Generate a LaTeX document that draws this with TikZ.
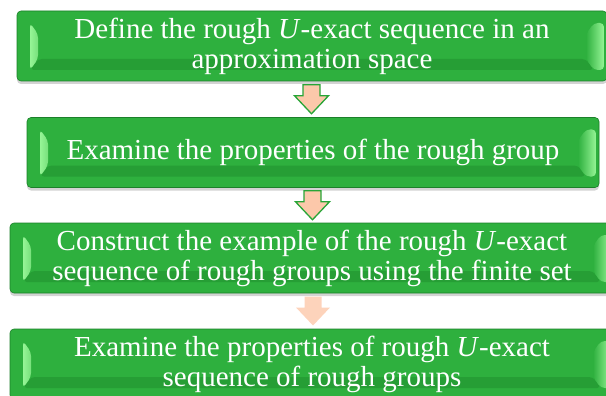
\documentclass[tikz,border=0pt]{standalone}
\usepackage{fontspec}
\setmainfont{Liberation Serif}
\usetikzlibrary{calc,shadows}

\definecolor{boxgreen}{RGB}{46,176,62}
\definecolor{boxedge}{RGB}{28,128,42}
\definecolor{bevellight}{RGB}{150,245,150}
\definecolor{beveldark}{RGB}{38,158,53}
\definecolor{arrowfill}{RGB}{252,200,170}
\definecolor{arrowedge}{RGB}{40,165,55}

% bevel faces of a step box, drawn as its path picture
\newcommand{\bevelbox}{%
  \coordinate (sw) at (path picture bounding box.south west);
  \coordinate (se) at (path picture bounding box.south east);
  \coordinate (nw) at (path picture bounding box.north west);
  \coordinate (ne) at (path picture bounding box.north east);
  \fill[beveldark] ($(sw)+(13pt,11pt)$) -- ($(se)+(-13pt,11pt)$)
    -- ++(-8pt,11pt) -- ($(sw)+(21pt,22pt)$) -- cycle;
  \fill[left color=bevellight, right color=bevellight!70!boxgreen]
    ($(nw)+(13pt,-12pt)$) -- ++(8pt,-11pt)
    -- ($(sw)+(21pt,22pt)$) -- ++(-8pt,-11pt) -- cycle;
  \fill[left color=boxgreen, right color=bevellight]
    ($(ne)+(-13pt,-12pt)$) -- ++(10pt,0pt)
    -- ($(se)+(-3pt,11pt)$) -- ++(-10pt,0pt) -- ++(-8pt,11pt)
    -- ($(ne)+(-21pt,-23pt)$) -- cycle;
}

\tikzset{
  stepbox/.style={rectangle, rounded corners=4pt, fill=boxgreen, draw=boxedge,
    line width=0.6pt, minimum height=70pt, inner sep=0pt, text=white, align=center,
    font=\fontsize{29}{30}\selectfont, path picture={\bevelbox},
    drop shadow={shadow xshift=0pt, shadow yshift=-3pt, opacity=0.35}},
  bigarrow/.style={fill=arrowfill, draw=arrowedge, line width=1.3pt, line join=miter},
  fadearrow/.style={fill=arrowfill!80!white, draw=none},
}

% block arrow centred at a coordinate
\newcommand{\downarrowat}[2]{%
  \draw[#2] ($(#1)+(-8.5pt,14.5pt)$) -- ++(17pt,0) -- ++(0,-11pt) -- ++(8.5pt,0)
    -- ++(-17pt,-18pt) -- ++(-17pt,18pt) -- ++(8.5pt,0) -- cycle;
}

\begin{document}
\begin{tikzpicture}
  \useasboundingbox (0,0) rectangle (606pt,-396pt);
  \clip (0,0) rectangle (606pt,-396pt);

  \node[stepbox, minimum width=590pt] (define) at (312pt,-46pt)
    {Define the rough \textit{U}-exact sequence in an\\approximation space};
  \node[stepbox, minimum width=572pt] (group) at (313pt,-152.5pt)
    {Examine the properties of the rough group};
  \node[stepbox, minimum width=604pt] (example) at (312pt,-258pt)
    {Construct the example of the rough \textit{U}-exact\\sequence of rough groups using the finite set};
  \node[stepbox, minimum width=604pt] (exact) at (312pt,-364pt)
    {Examine the properties of rough \textit{U}-exact\\sequence of rough groups};

  \coordinate (a1) at ($(define.south)!0.5!(group.north)+(-1pt,0)$);
  \coordinate (a2) at ($(group.south)!0.5!(example.north)$);
  \coordinate (a3) at ($(example.south)!0.5!(exact.north)+(1pt,0)$);

  \downarrowat{a1}{bigarrow}
  \downarrowat{a2}{bigarrow}
  \downarrowat{a3}{fadearrow}
\end{tikzpicture}
\end{document}
